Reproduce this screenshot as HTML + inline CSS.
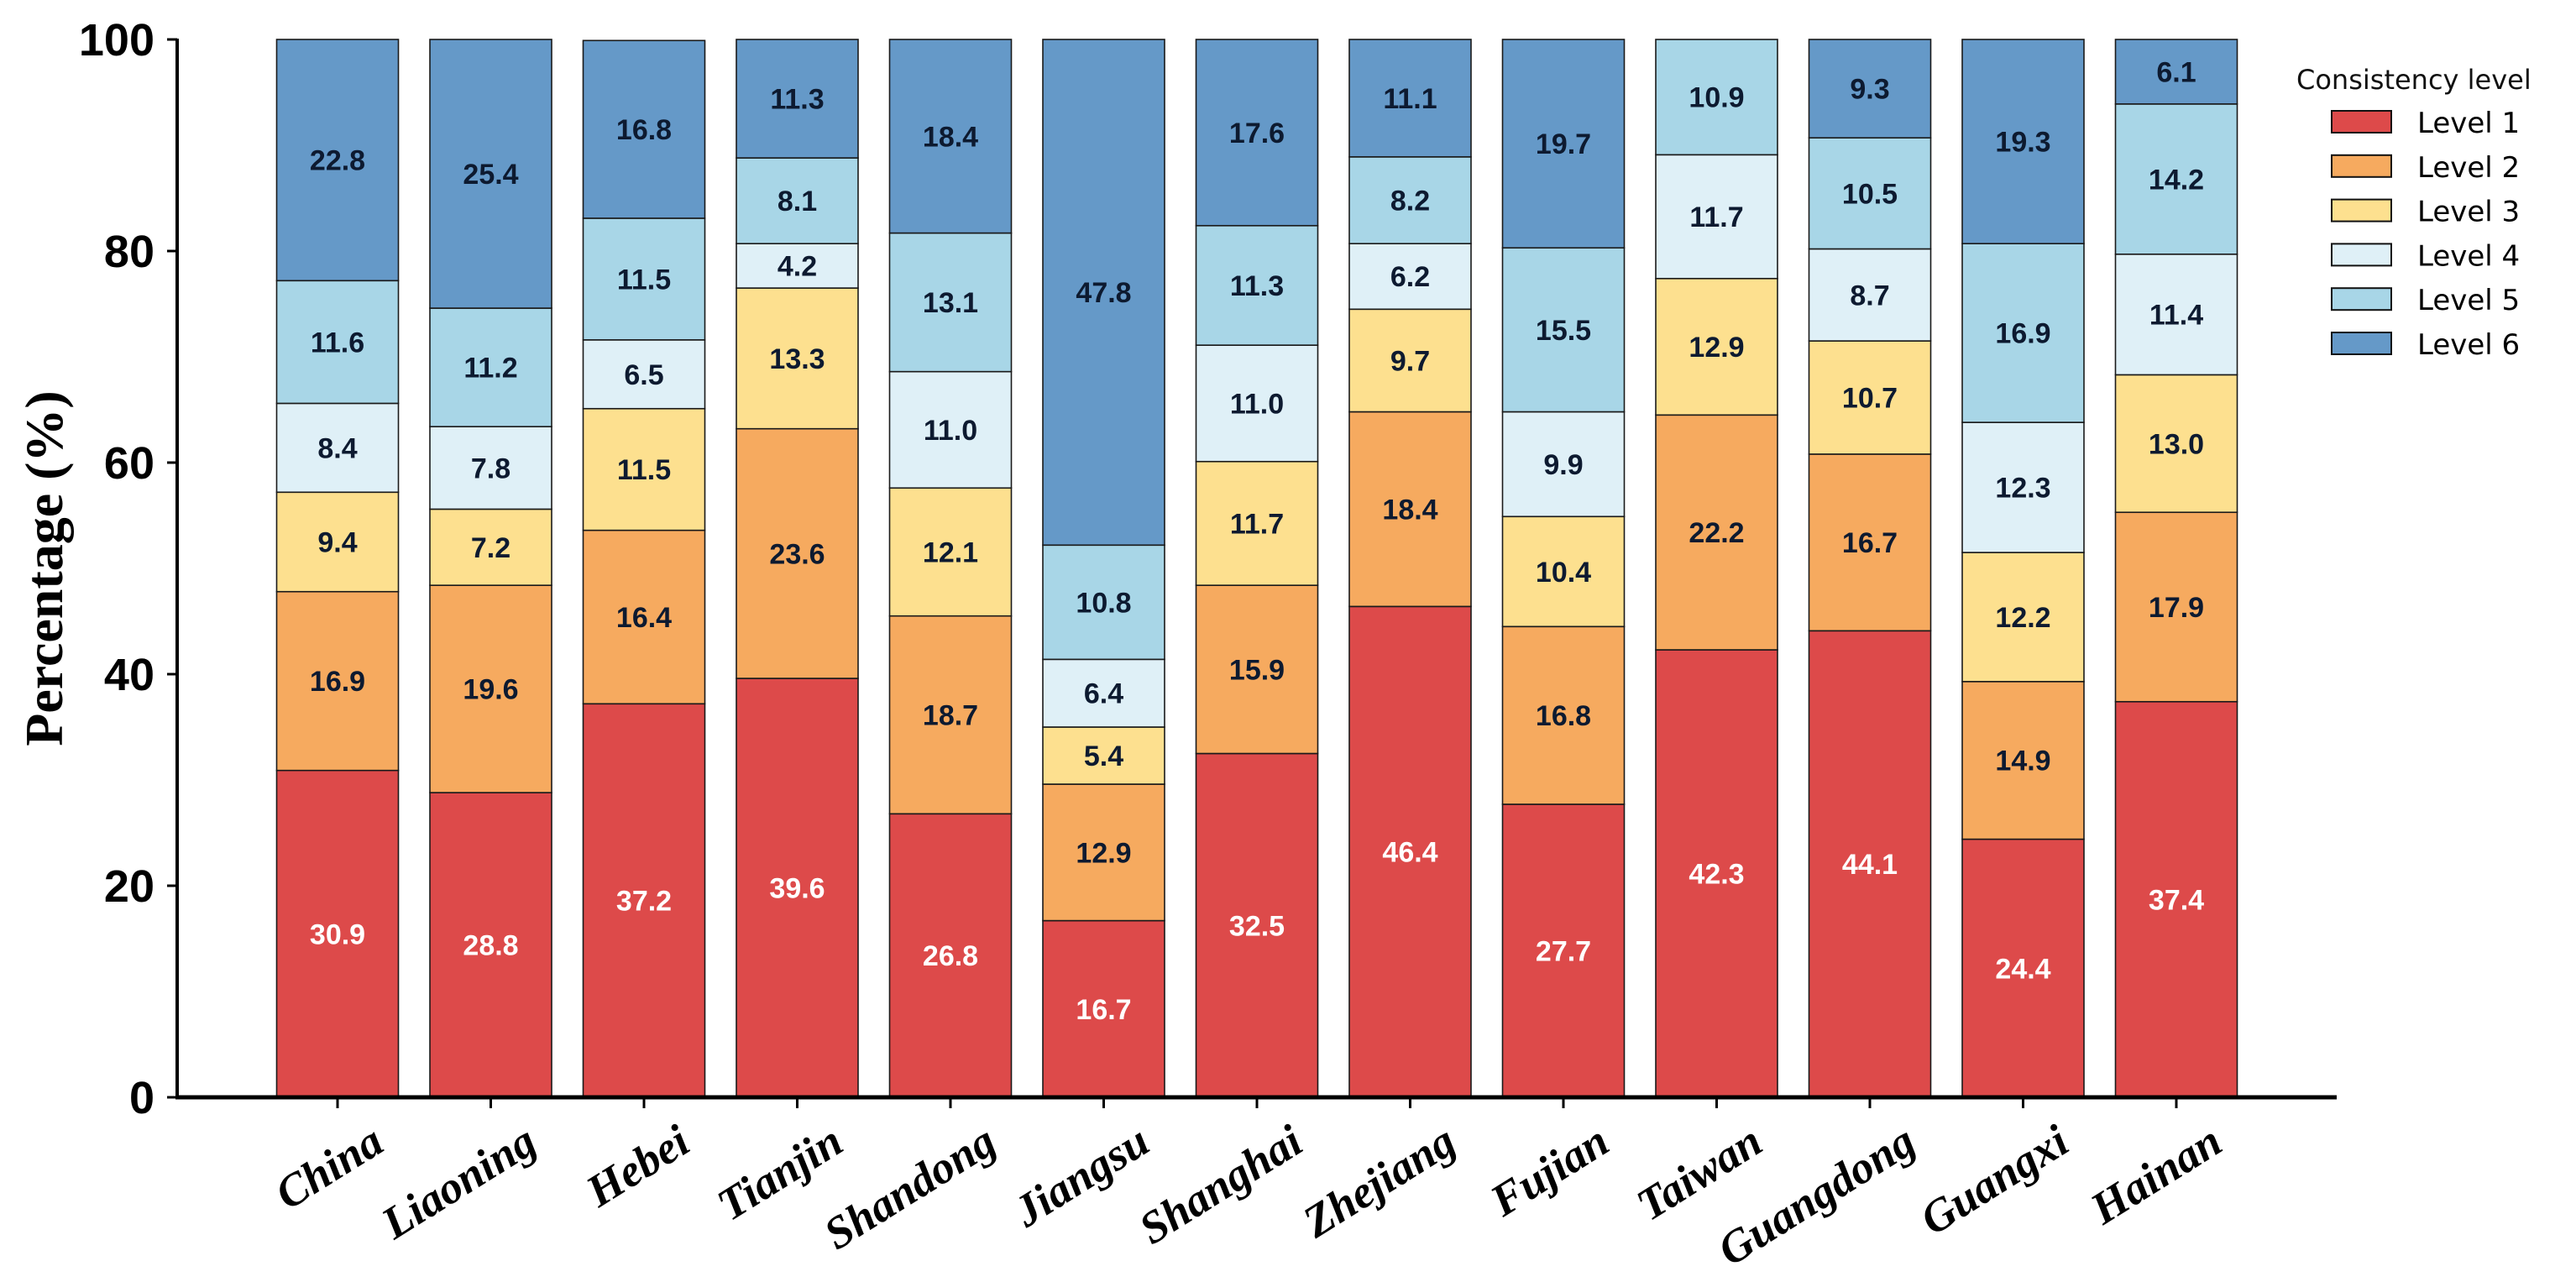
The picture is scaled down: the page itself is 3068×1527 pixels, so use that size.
<!DOCTYPE html>
<html><head><meta charset="utf-8"><style>
html,body{margin:0;padding:0;background:#fff}
svg{display:block}
</style></head><body>
<svg id="chart" width="3068" height="1527" viewBox="0 0 3068 1527" xmlns="http://www.w3.org/2000/svg">
<g id="bars"></g>
<g id="axes"></g>
<g id="legend"></g>
</svg>
<script>
const categories=["China","Liaoning","Hebei","Tianjin","Shandong","Jiangsu","Shanghai","Zhejiang","Fujian","Taiwan","Guangdong","Guangxi","Hainan"];
const level1=[30.9,28.8,37.2,39.6,26.8,16.7,32.5,46.4,27.7,42.3,44.1,24.4,37.4];
const level2=[16.9,19.6,16.4,23.6,18.7,12.9,15.9,18.4,16.8,22.2,16.7,14.9,17.9];
const level3=[9.4,7.2,11.5,13.3,12.1,5.4,11.7,9.7,10.4,12.9,10.7,12.2,13.0];
const level4=[8.4,7.8,6.5,4.2,11.0,6.4,11.0,6.2,9.9,11.7,8.7,12.3,11.4];
const level5=[11.6,11.2,11.5,8.1,13.1,10.8,11.3,8.2,15.5,10.9,10.5,16.9,14.2];
const level6=[22.8,25.4,16.8,11.3,18.4,47.8,17.6,11.1,19.7,0,9.3,19.3,6.1];
const seriesNames=["Level 1","Level 2","Level 3","Level 4","Level 5","Level 6"];
const yTicks=[0,20,40,60,80,100];

const NS="http://www.w3.org/2000/svg";
const series=[level1,level2,level3,level4,level5,level6];
const colors=["#dd4a4a","#f6aa5f","#fde08f","#dff0f7","#a8d6e7","#6599c8"];
const X0=211,Y0=1307,YT=47,FIRST=402,STEP=182.5,BW=145;
function y(v){return Y0-(v/100)*(Y0-YT);}
function xc(i){return FIRST+i*STEP;}
function el(tag,attrs,parent,text){const e=document.createElementNS(NS,tag);for(const k in attrs)e.setAttribute(k,attrs[k]);if(text!==undefined)e.textContent=text;parent.appendChild(e);return e;}

const bars=document.getElementById('bars');
categories.forEach((c,i)=>{
  let cum=0;
  series.forEach((s,j)=>{
    const v=s[i];
    if(v<=0)return;
    const top=Math.min(cum+v,100);
    const r=el('rect',{x:xc(i)-BW/2,y:y(top),width:BW,height:y(cum)-y(top),fill:colors[j],stroke:'#1a1a1a','stroke-width':1.6},bars);
    
    
    const t=el('text',{x:xc(i),y:y((cum+top)/2)+12,'text-anchor':'middle','font-family':'Liberation Sans, Arial, sans-serif','font-weight':'bold','font-size':34,fill:j===0?'#ffffff':'#0d1a30'},bars,v.toFixed(1));
    
    
    cum=top;
  });
});

const axes=document.getElementById('axes');
const ya=el('line',{x1:X0,y1:YT-1,x2:X0,y2:Y0+2,stroke:'#000','stroke-width':4},axes);


const xa=el('line',{x1:X0-2,y1:Y0,x2:2783,y2:Y0,stroke:'#000','stroke-width':5},axes);


yTicks.forEach(t=>{
  const tk=el('line',{x1:X0-12,y1:y(t),x2:X0,y2:y(t),stroke:'#000','stroke-width':3},axes);
  
  
  const lb=el('text',{x:184,y:y(t)+19,'text-anchor':'end','font-family':'Liberation Sans, Arial, sans-serif','font-weight':'bold','font-size':54,fill:'#000'},axes,String(t));
  
  
});
categories.forEach((c,i)=>{
  const tk=el('line',{x1:xc(i),y1:Y0,x2:xc(i),y2:Y0+13,stroke:'#000','stroke-width':3},axes);
  
  
  const lx=xc(i)+58,ly=Y0+62;
  const lb=el('text',{x:lx,y:ly,'text-anchor':'end','font-family':'Liberation Serif, Times New Roman, serif','font-weight':'bold','font-style':'italic','font-size':54,fill:'#000',transform:'rotate(-32 '+lx+' '+ly+')'},axes,c);
  
  
});
const yt=el('text',{x:0,y:0,'text-anchor':'middle','font-family':'Liberation Serif, Times New Roman, serif','font-weight':'bold','font-size':64,fill:'#000',transform:'translate(74 677) rotate(-90)'},axes,'Percentage (%)');



const lg=document.getElementById('legend');
const lt=el('text',{x:2735,y:106,'font-family':'DejaVu Sans, Verdana, sans-serif','font-size':32,fill:'#111'},lg,'Consistency level');


seriesNames.forEach((n,j)=>{
  const cy=145+j*52.8;
  const sw=el('rect',{x:2777,y:cy-13,width:71,height:26,fill:colors[j],stroke:'#111','stroke-width':2},lg);
  
  
  const tx=el('text',{x:2879,y:cy+13,'font-family':'DejaVu Sans, Verdana, sans-serif','font-size':34,fill:'#000'},lg,n);
  
  
});
</script>
</body></html>
